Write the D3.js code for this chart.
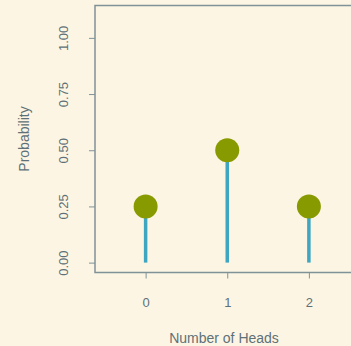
<!DOCTYPE html>
<html><head><meta charset="utf-8">
<script src="https://cdn.jsdelivr.net/npm/d3@7"></script>
<style>html,body{margin:0;padding:0;background:#FDF5E3;}</style>
</head><body>
<script>
const heads = [0, 1, 2];
const probability = [0.25, 0.5, 0.25];
const yTicks = [0, 0.25, 0.5, 0.75, 1.0];
const yTickLabels = ["0.00", "0.25", "0.50", "0.75", "1.00"];
const xTicks = [0, 1, 2];

const W = 351, H = 346;
const axisCol = "#7F9298", textCol = "#5E7178";
const font = "Liberation Sans, Arial, sans-serif";
const svg = d3.select("body").append("svg").attr("width", W).attr("height", H)
  .style("background", "#FDF5E3");

const x = d3.scaleLinear().domain([-0.62, 2.62]).range([95, 359.5]);
const y = d3.scaleLinear().domain([-0.044, 1.144]).range([272.5, 5.5]);

// box
svg.append("rect").attr("x", x(-0.62)).attr("y", y(1.144))
  .attr("width", x(2.62) - x(-0.62)).attr("height", y(-0.044) - y(1.144))
  .attr("fill", "none").attr("stroke", axisCol).attr("stroke-width", 1.5);

// y axis
const x0 = x(-0.62);
const ya = svg.append("g").attr("transform", `translate(${x0},0)`)
  .call(d3.axisLeft(y).tickValues(yTicks).tickSize(6).tickFormat((d, i) => yTickLabels[i]));
ya.select(".domain").remove();
ya.selectAll("line").attr("stroke", axisCol);
ya.selectAll("text").attr("fill", textCol).style("font-family", font)
  .style("font-size", "13px")
  .attr("x", null).attr("y", null).attr("dy", "0.35em")
  .attr("text-anchor", "middle")
  .attr("transform", `translate(${63 - x0},0) rotate(-90)`);

// x axis
const xa = svg.append("g").attr("transform", `translate(0,${y(-0.044)})`)
  .call(d3.axisBottom(x).tickValues(xTicks).tickSize(6).tickFormat(d3.format("d")));
xa.select(".domain").remove();
xa.selectAll("line").attr("stroke", axisCol);
xa.selectAll("text").attr("fill", textCol).style("font-family", font)
  .style("font-size", "13px").attr("y", 25);

// axis titles
svg.append("text").attr("x", 224).attr("y", 343)
  .attr("text-anchor", "middle").attr("fill", textCol)
  .style("font-family", font).style("font-size", "14px")
  .text("Number of Heads");
svg.append("text").attr("transform", `translate(29,${(y(-0.044) + y(1.144)) / 2}) rotate(-90)`)
  .attr("text-anchor", "middle").attr("fill", textCol)
  .style("font-family", font).style("font-size", "14px")
  .text("Probability");

// stems
svg.selectAll(".stem").data(heads).enter().append("line")
  .attr("x1", d => x(d)).attr("x2", d => x(d))
  .attr("y1", y(0)).attr("y2", (d, i) => y(probability[i]))
  .attr("stroke", "#3FA6C2").attr("stroke-width", 3.5);

// points
svg.selectAll(".pt").data(heads).enter().append("circle")
  .attr("cx", d => x(d)).attr("cy", (d, i) => y(probability[i]))
  .attr("r", 12).attr("fill", "#879A00");
</script>
</body></html>
